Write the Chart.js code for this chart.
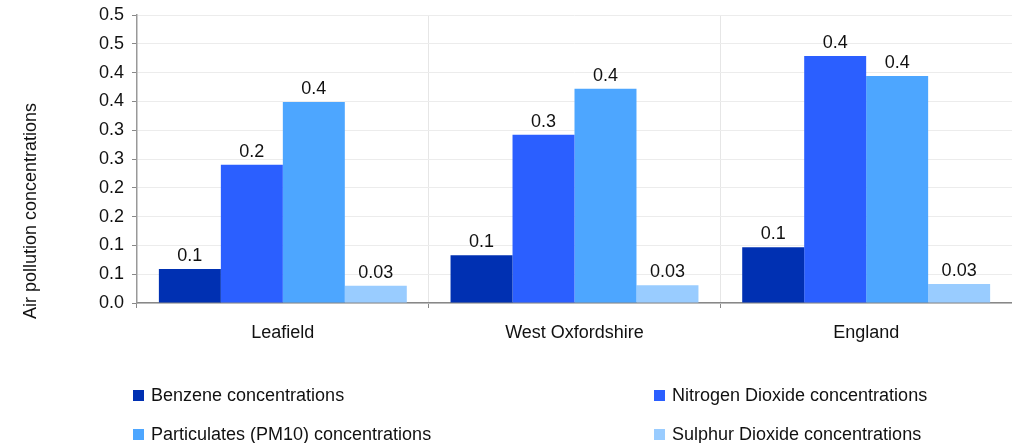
<!DOCTYPE html>
<html>
<head>
<meta charset="utf-8">
<script src="https://cdn.jsdelivr.net/npm/chart.js@4/dist/chart.umd.min.js"></script>
<style>
  body { margin: 0; background: #fff; font-family: "Liberation Sans", Arial, sans-serif; }
  #wrap { position: relative; width: 1012px; height: 443px; }
  #legend { position: absolute; left: 0; top: 0; width: 1012px; height: 443px; pointer-events: none; }
  .item { position: absolute; font-size: 18px; color: #111; line-height: 20px; white-space: nowrap; }
  .item span.box { display: inline-block; width: 11px; height: 11px; margin-right: 7px; vertical-align: 0px; }
</style>
</head>
<body>
<div id="wrap">
  <canvas id="chart" width="1012" height="443"></canvas>
  <div id="legend"></div>
</div>
<script>
// Données
const categories = ['Leafield', 'West Oxfordshire', 'England'];
const seriesNames = [
    'Benzene concentrations',
    'Nitrogen Dioxide concentrations',
    'Particulates (PM10) concentrations',
    'Sulphur Dioxide concentrations'
];
const benzene = [0.059, 0.083, 0.097];
const nitrogenDioxide = [0.240, 0.292, 0.429];
const particulates = [0.349, 0.372, 0.394];
const sulphurDioxide = [0.030, 0.031, 0.033];
// étiquettes affichées au-dessus des barres (arrondies comme sur l'original)
const benzeneLabels = ['0.1', '0.1', '0.1'];
const nitrogenLabels = ['0.2', '0.3', '0.4'];
const particulatesLabels = ['0.4', '0.4', '0.4'];
const sulphurLabels = ['0.03', '0.03', '0.03'];
const yTickLabels = ['0.0', '0.1', '0.1', '0.2', '0.2', '0.3', '0.3', '0.4', '0.4', '0.5', '0.5'];
const colors = ['#0030B2', '#2B5FFF', '#4DA6FF', '#99CCFF'];

const FONT = '"Liberation Sans", Arial, sans-serif';
const FONT_SIZE = 18;

// Étiquettes de valeurs au-dessus des barres
const valueLabels = {
    id: 'valueLabels',
    afterDatasetsDraw(chart) {
        const ctx = chart.ctx;
        ctx.save();
        ctx.font = FONT_SIZE + 'px ' + FONT;
        ctx.fillStyle = '#111';
        ctx.textAlign = 'center';
        ctx.textBaseline = 'bottom';
        chart.data.datasets.forEach((ds, i) => {
            chart.getDatasetMeta(i).data.forEach((bar, j) => {
                ctx.fillText(ds.valueLabels[j], bar.x, bar.y - 4);
            });
        });
        ctx.restore();
    }
};

// Titre de l'axe Y (placé comme sur l'original)
const yTitle = {
    id: 'yTitle',
    afterDraw(chart) {
        const ctx = chart.ctx;
        ctx.save();
        ctx.translate(31, 211);
        ctx.rotate(-Math.PI / 2);
        ctx.font = FONT_SIZE + 'px ' + FONT;
        ctx.fillStyle = '#111';
        ctx.textAlign = 'center';
        ctx.textBaseline = 'middle';
        ctx.fillText('Air pollution concentrations', 0, 0);
        ctx.restore();
    }
};

const values = [benzene, nitrogenDioxide, particulates, sulphurDioxide];
const labelSets = [benzeneLabels, nitrogenLabels, particulatesLabels, sulphurLabels];

const chart = new Chart(document.getElementById('chart'), {
    type: 'bar',
    data: {
        labels: categories,
        datasets: seriesNames.map((name, i) => ({
            label: name,
            data: values[i],
            valueLabels: labelSets[i],
            backgroundColor: colors[i],
            categoryPercentage: 0.85,
            barPercentage: 1.0
        }))
    },
    options: {
        responsive: false,
        animation: false,
        layout: { padding: { top: 15, right: 0, bottom: 0, left: 0 } },
        scales: {
            x: {
                grid: { color: '#e6e6e6', offset: true, tickLength: 5, tickColor: '#888' },
                border: { color: '#888', width: 1.5 },
                ticks: { font: { family: FONT, size: FONT_SIZE }, color: '#111', padding: 14 },
                afterFit: s => { s.height = 140; }
            },
            y: {
                min: 0,
                max: 0.5,
                grid: { color: '#ececec', tickLength: 5, tickColor: '#888' },
                border: { color: '#999', width: 1.5 },
                ticks: {
                    stepSize: 0.05,
                    font: { family: FONT, size: FONT_SIZE },
                    color: '#111',
                    padding: 8,
                    callback: (v, i) => yTickLabels[i]
                },
                afterFit: s => { s.width = 137; s.paddingTop = 0; s.paddingBottom = 0; }
            }
        },
        plugins: {
            legend: { display: false },
            tooltip: { enabled: false }
        }
    },
    plugins: [valueLabels, yTitle]
});

// Légende en deux colonnes
const legendPos = [[133, 385], [654, 385], [133, 424], [654, 424]];
const legend = document.getElementById('legend');
chart.data.datasets.forEach((ds, i) => {
    const d = document.createElement('div');
    d.className = 'item';
    d.style.left = legendPos[i][0] + 'px';
    d.style.top = legendPos[i][1] + 'px';
    d.innerHTML = '<span class="box" style="background:' + ds.backgroundColor + '"></span>' + ds.label;
    legend.appendChild(d);
});
</script>
</body>
</html>
